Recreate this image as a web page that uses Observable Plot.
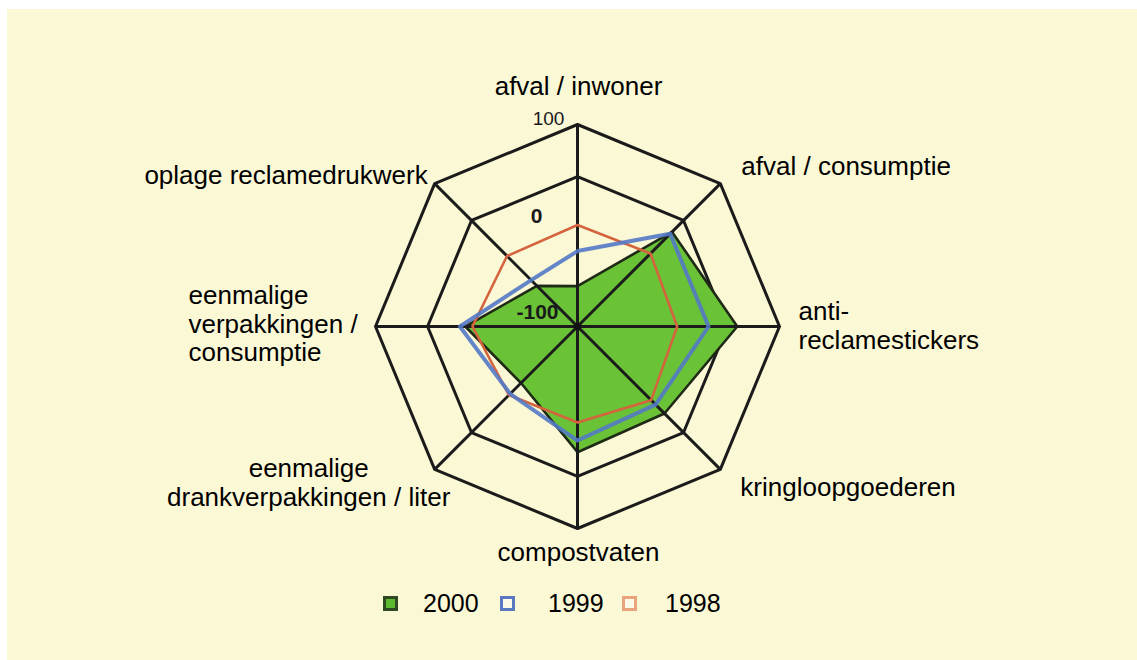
<!DOCTYPE html>
<html>
<head>
<meta charset="utf-8">
<script src="https://cdn.jsdelivr.net/npm/d3@7"></script>
<script src="https://cdn.jsdelivr.net/npm/@observablehq/plot@0.6"></script>
<style>
  html, body { margin: 0; padding: 0; background: #ffffff; }
  body { width: 1137px; height: 660px; position: relative; overflow: hidden;
         font-family: "Liberation Sans", Arial, Helvetica, sans-serif; }
  #panel { position: absolute; left: 7px; top: 9px; width: 1130px; height: 651px; background: #fbf8d6; }
  #chart { position: absolute; left: 0; top: 0; }
  .lg { position: absolute; }
  .sq { width: 15px; height: 15px; box-sizing: border-box; border: 3px solid; top: 587px; }
  .lt { font-size: 25px; line-height: 25px; top: 582px; color: #000; }
</style>
</head>
<body>
<div id="panel">
  <div id="chart"></div>
  <div class="lg sq" style="left:376px;border-color:#2f4a22;background:#5cba2e;"></div>
  <div class="lg lt" style="left:416px;">2000</div>
  <div class="lg sq" style="left:493px;border-color:#5b79c1;background:#fdfbe8;"></div>
  <div class="lg lt" style="left:541px;">1999</div>
  <div class="lg sq" style="left:615px;border-color:#e8a47c;background:#fdfbe8;"></div>
  <div class="lg lt" style="left:658px;">1998</div>
</div>
<script>
// ---- data ----
const categories = [
  "afval / inwoner",
  "afval / consumptie",
  "anti-\nreclamestickers",
  "kringloopgoederen",
  "compostvaten",
  "eenmalige\ndrankverpakkingen / liter",
  "eenmalige\nverpakkingen /\nconsumptie",
  "oplage reclamedrukwerk"
];
const values2000 = [-80, 24, 53, 12, 15, -36, 0, -61];
const values1999 = [-41, 21, 21, -2, 2, -19, 6, -52];
const values1998 = [-12, -10, -14, -9, -18, -17, -8, -14];
const tickValues = [-100, 0, 100];
const tickLabels = ["-100", "0", "100"];
const ringValues = [42, 100];

// ---- layout (not data) ----
const R = 202;
const rScale = d3.scaleLinear().domain([-125, 100]).range([0, R]);
const n = categories.length;
const angle = i => (i * 2 * Math.PI) / n;
const pt = (v, i) => ({x: rScale(v) * Math.sin(angle(i)), y: rScale(v) * Math.cos(angle(i))});

const labelLayout = [
  {anchor: "middle", dx: 1, dy: -39},
  {anchor: "start", dx: 21, dy: -18},
  {anchor: "start", dx: 19, dy: -1},
  {anchor: "start", dx: 20, dy: 18},
  {anchor: "middle", dx: 1, dy: 23},
  {anchor: "middle", dx: -126, dy: 13},
  {anchor: "start", dx: -187, dy: -3},
  {anchor: "end", dx: -7, dy: -9}
];
const tickLayout = [
  {dx: -40, dy: 8, weight: "bold", size: 21},
  {dx: -41, dy: 2, weight: "bold", size: 21},
  {dx: -29, dy: -6, weight: "normal", size: 19}
];

const poly = vals => vals.map((v, i) => pt(v, i));
const rings = ringValues.map(v => poly(categories.map(() => v)));
const spokes = categories.map((c, i) => ({...pt(100, i), name: c}));

const marks = [];
for (const ring of rings) {
  marks.push(Plot.line(ring, {x: "x", y: "y", curve: "linear-closed", stroke: "#1b1b1b", strokeWidth: 3}));
}
marks.push(Plot.line(poly(values2000), {x: "x", y: "y", curve: "linear-closed", fill: "#6ac236", stroke: "#1f2a16", strokeWidth: 2.6}));
marks.push(Plot.link(spokes, {x1: 0, y1: 0, x2: "x", y2: "y", stroke: "#1b1b1b", strokeWidth: 3}));
marks.push(Plot.line(poly(values1998), {x: "x", y: "y", curve: "linear-closed", stroke: "#d4643e", strokeWidth: 2.6}));
marks.push(Plot.line(poly(values1999), {x: "x", y: "y", curve: "linear-closed", stroke: "#5379c6", strokeWidth: 4, strokeOpacity: 0.9}));
marks.push(Plot.dot([{x: 0, y: 0}], {x: "x", y: "y", r: 3.5, fill: "#111"}));

tickValues.forEach((v, k) => {
  marks.push(Plot.text([{x: 0, y: rScale(v), t: tickLabels[k]}], {
    x: "x", y: "y", text: "t", dx: tickLayout[k].dx, dy: tickLayout[k].dy,
    fontSize: tickLayout[k].size, fontWeight: tickLayout[k].weight, fill: "#1a1a1a", textAnchor: "middle"
  }));
});

categories.forEach((c, i) => {
  const L = labelLayout[i];
  marks.push(Plot.text([{...pt(100, i), t: c}], {
    x: "x", y: "y", text: "t", dx: L.dx, dy: L.dy, textAnchor: L.anchor,
    lineAnchor: "middle", lineHeight: 1.1, fontSize: 26, fill: "#000"
  }));
});

const chart = Plot.plot({
  width: 1130,
  height: 570,
  margin: 0,
  x: {domain: [-570, 560], axis: null},
  y: {domain: [-253, 317], range: [570, 0], axis: null},
  style: {background: "transparent", fontFamily: "'Liberation Sans', Arial, Helvetica, sans-serif"},
  marks
});
document.getElementById("chart").appendChild(chart);
</script>
</body>
</html>
